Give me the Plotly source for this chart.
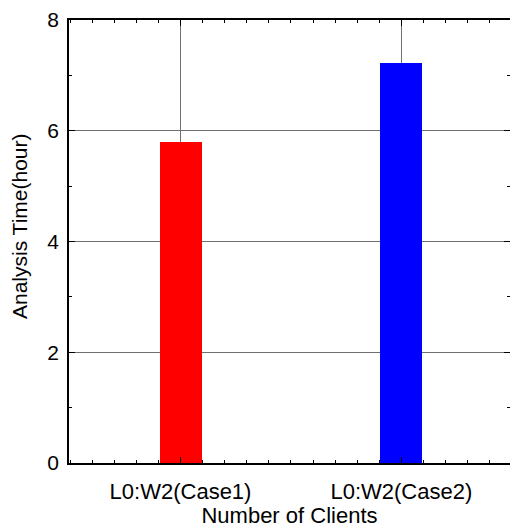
import plotly.graph_objects as go

categories = ["L0:W2(Case1)", "L0:W2(Case2)"]
values = [5.8, 7.22]
colors = ["#ff0000", "#0000ff"]
x_title = "Number of Clients"
y_title = "Analysis Time(hour)"

x_pos = list(range(len(categories)))

fig = go.Figure()
fig.add_trace(go.Bar(
    x=x_pos, y=values, width=0.19,
    marker=dict(color=colors, line=dict(width=0)),
    showlegend=False,
))

font = "Liberation Sans, Arial, Helvetica, sans-serif"
fig.update_layout(
    width=510, height=528,
    margin=dict(l=69, r=0, t=20, b=65),
    paper_bgcolor="white", plot_bgcolor="white",
    font=dict(family=font, size=21, color="black"),
    bargap=0,
    xaxis=dict(
        automargin=False,
        range=[-0.505, 1.492],
        tickvals=x_pos, ticktext=categories,
        ticks="inside", ticklen=6, tickcolor="black", tickwidth=1,
        ticklabelstandoff=8,
        showgrid=True, gridcolor="#707070", gridwidth=1,
        showline=True, linecolor="black", linewidth=1.5, mirror="ticks",
        zeroline=False,
        minor=dict(dtick=0.1, tick0=0, ticks="inside", ticklen=3, tickcolor="black", showgrid=False),
        title=dict(text=x_title, font=dict(size=22), standoff=6),
        tickfont=dict(size=22),
    ),
    yaxis=dict(
        automargin=False,
        range=[0, 8],
        tickvals=[0, 2, 4, 6, 8],
        ticks="inside", ticklen=6, tickcolor="black", tickwidth=1,
        ticklabelstandoff=4,
        showgrid=True, gridcolor="#707070", gridwidth=1,
        showline=True, linecolor="black", linewidth=1.5, mirror="ticks",
        zeroline=False,
        minor=dict(dtick=1, tick0=0, ticks="inside", ticklen=3, tickcolor="black", showgrid=False),
        tickfont=dict(size=21),
        layer="below traces",
    ),
    annotations=[dict(
        text=y_title, textangle=-90, showarrow=False,
        xref="paper", yref="paper", x=-0.111, y=0.535,
        xanchor="center", yanchor="middle",
        font=dict(size=21),
    )],
)

fig.write_html(
    "out.html",
    config={"displayModeBar": False},
    post_script=(
        "document.documentElement.style.overflow='hidden';"
        "document.body.style.overflow='hidden';"
        "document.body.style.margin='0';document.body.style.padding='0';"
    ),
)
